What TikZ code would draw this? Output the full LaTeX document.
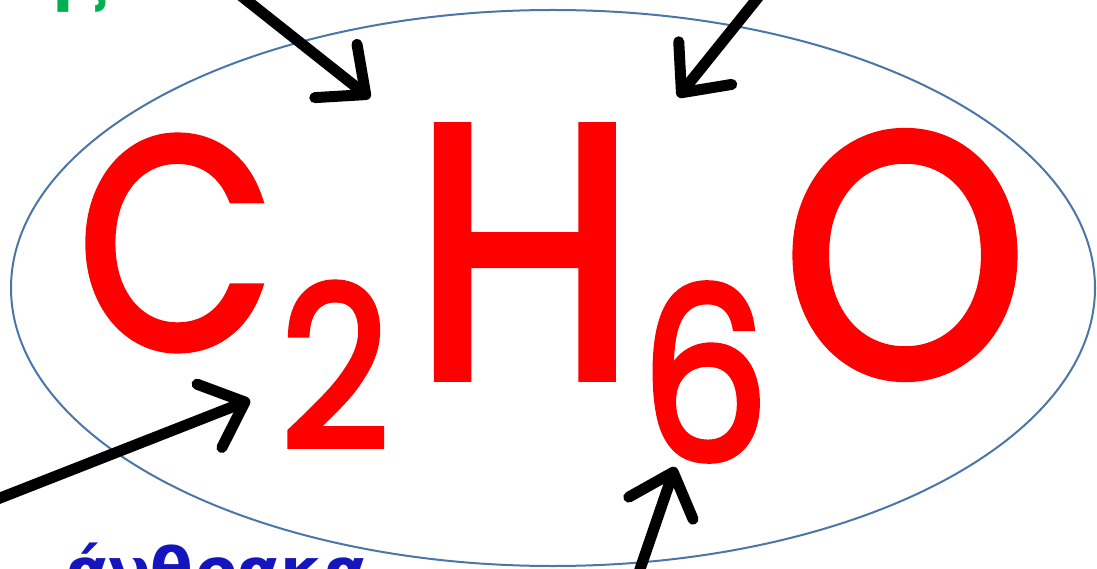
\documentclass[tikz,border=0pt]{standalone}
\usepackage{fontspec}
\usetikzlibrary{arrows.meta,shapes.geometric}
\newfontfamily\chemfont[FakeBold=2.5]{Poppins}
\newfontfamily\grfont{DejaVu Sans}
\definecolor{ellcol}{HTML}{4A76A8}
\definecolor{redtxt}{HTML}{FF0000}
\definecolor{greentxt}{HTML}{00B050}
\definecolor{bluetxt}{HTML}{1515C0}
\tikzset{
  letter/.style={inner sep=0pt, outer sep=0pt, text=redtxt, anchor=center},
  arr/.style={line width=11pt, draw=black, line cap=round, line join=round,
    -{Straight Barb[length=38pt, width=68pt, round]}},
  lbl/.style={inner sep=0pt, outer sep=0pt, font=\grfont\bfseries\fontsize{62}{62}\selectfont}
}
\begin{document}
\begin{tikzpicture}[x=1pt,y=-1pt]
\useasboundingbox (0,0) rectangle (1097,569);
\clip (0,0) rectangle (1097,569);
\node[draw=ellcol, line width=2pt, ellipse, minimum width=1084pt, minimum height=556pt, inner sep=0pt] (ell) at (553,288) {};
\node[letter, font=\chemfont\fontsize{300}{300}\selectfont, xscale=0.85] (C) at (176,243) {C};
\node[letter, font=\chemfont\fontsize{225}{225}\selectfont, xscale=0.85] (two) at (335,365) {2};
\node[letter, font=\chemfont\fontsize{360}{360}\selectfont, xscale=0.9] (H) at (525,252) {H};
\node[letter, font=\chemfont\fontsize{240}{240}\selectfont, xscale=0.85] (six) at (705,372) {6};
\node[letter, font=\chemfont\fontsize{345}{345}\selectfont, xscale=0.9] (O) at (905,255) {O};
\node[lbl, text=greentxt, anchor=base east] (gtxt) at (110,0) {ης};
\node[lbl, text=bluetxt, anchor=base west] (btxt) at (66,592) {άνθρακα};
\coordinate (a1s) at (240,-5);
\coordinate (a1t) at (370,98);
\coordinate (a2s) at (760,-5);
\coordinate (a2t) at (678,97);
\coordinate (a3s) at (-5,500);
\coordinate (a3t) at (250,400);
\coordinate (a4s) at (638,575);
\coordinate (a4t) at (675,467);
\draw[arr] (a1s) -- (a1t);
\draw[arr] (a2s) -- (a2t);
\draw[arr] (a3s) -- (a3t);
\draw[arr] (a4s) -- (a4t);
\end{tikzpicture}
\end{document}
